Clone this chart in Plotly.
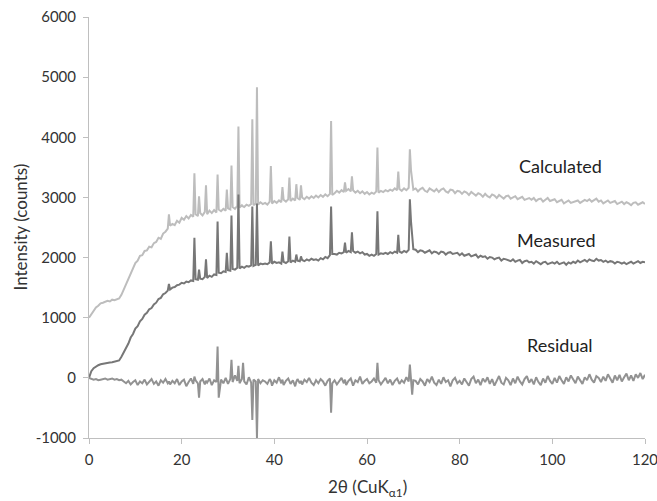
import plotly.graph_objects as go

# 2-theta positions (deg), shared by the three patterns
two_theta = [
    0, 0.5, 1, 1.5, 2, 2.5, 3, 3.5, 4, 4.5, 5, 5.5, 6, 6.5,
    7, 7.5, 8, 8.5, 9, 9.5, 10, 10.5, 11, 11.5, 12, 12.5, 13, 13.5, 14, 14.5, 15, 15.5, 16, 16.5, 17, 17.25,
    17.5, 18, 18.5, 19, 19.5, 20, 20.5, 21, 21.5, 22, 22.5, 22.75,
    23, 23.5, 23.75, 24, 24.5, 25, 25.25, 25.5, 26, 26.5, 27, 27.5, 27.75, 28, 28.5, 29, 29.5, 29.75, 30, 30.5,
    30.75, 31, 31.5, 32, 32.25, 32.5, 33, 33.25, 33.5, 34, 34.5, 35, 35.25, 35.5, 36, 36.25, 36.5, 37, 37.5,
    38, 38.5, 39, 39.25, 39.5, 40, 40.5, 41, 41.5, 41.75, 42, 42.5, 43, 43.25, 43.5, 44, 44.5, 44.75, 45, 45.5,
    45.75, 46, 46.5, 47, 47.5, 48, 48.5, 49, 49.5, 50, 50.5, 51, 51.5, 52, 52.25, 52.5,
    53, 53.5, 54, 54.5, 55, 55.25, 55.5, 56, 56.5, 56.75, 57, 57.5, 58, 58.5, 59, 59.5, 60, 60.5, 61, 61.5,
    62, 62.25, 62.5, 63, 63.5, 64, 64.5, 65, 65.5, 66, 66.5, 66.75, 67, 67.5, 68, 68.5, 69, 69.25, 69.5, 69.75, 70,
    70.5, 71, 71.5, 72, 72.5, 73, 73.5, 74, 74.5, 75,
    75.5, 76, 76.5, 77, 77.5, 78, 78.5, 79, 79.5, 80,
    80.5, 81, 81.5, 82, 82.5, 83, 83.5, 84, 84.5, 85,
    85.5, 86, 86.5, 87, 87.5, 88, 88.5, 89, 89.5, 90,
    90.5, 91, 91.5, 92, 92.5, 93, 93.5, 94, 94.5, 95,
    95.5, 96, 96.5, 97, 97.5, 98, 98.5, 99, 99.5, 100,
    100.5, 101, 101.5, 102, 102.5, 103, 103.5, 104, 104.5, 105,
    105.5, 106, 106.5, 107, 107.5, 108, 108.5, 109, 109.5, 110,
    110.5, 111, 111.5, 112, 112.5, 113, 113.5, 114, 114.5, 115,
    115.5, 116, 116.5, 117, 117.5, 118, 118.5, 119, 119.5, 120,
]

calculated = [
    1000, 1060, 1110, 1170, 1200, 1240, 1250, 1270, 1280, 1270, 1300, 1290, 1300, 1320,
    1380, 1470, 1570, 1650, 1760, 1830, 1910, 1950, 2030, 2040, 2110, 2120, 2180, 2170, 2240, 2260, 2330, 2310, 2400, 2430, 2480, 2720,
    2530, 2560, 2540, 2610, 2580, 2660, 2630, 2690, 2650, 2710, 2680, 3400,
    2720, 2690, 3020, 2740, 2700, 2760, 3200, 2720, 2780, 2740, 2790, 2750, 3380, 2800, 2770, 2810, 2780, 3130, 2820, 2800,
    3530, 2840, 2810, 2860, 4180, 2830, 2870, 2850, 2840, 2880, 2860, 2890, 4300, 2870, 2900, 4830, 2880, 2920, 2890,
    2910, 2880, 2930, 3520, 2900, 2940, 2910, 2950, 2920, 3170, 2960, 2930, 2970, 3330, 2940, 2980, 2950, 3220, 2990, 2960,
    3200, 3000, 2970, 3010, 2980, 3020, 2990, 3030, 3000, 3040, 3010, 3050, 3020, 3060, 4270, 3040,
    3070, 3110, 3080, 3120, 3090, 3250, 3110, 3140, 3100, 3350, 3120, 3080, 3110, 3070, 3100, 3060, 3090, 3050, 3080, 3060,
    3100, 3830, 3080, 3110, 3090, 3120, 3100, 3130, 3110, 3150, 3120, 3430, 3140, 3110, 3150, 3120, 3160, 3800, 3450, 3250, 3130,
    3150, 3100, 3140, 3160, 3110, 3090, 3150, 3120, 3100, 3140,
    3090, 3130, 3150, 3100, 3080, 3130, 3120, 3070, 3110, 3100,
    3060, 3100, 3080, 3040, 3090, 3060, 3030, 3070, 3050, 3010,
    3060, 3020, 3000, 3050, 3030, 2990, 3040, 3010, 2980, 3020,
    3030, 2980, 3000, 3020, 2970, 2990, 3010, 2960, 2980, 2990,
    2960, 2990, 2940, 2970, 2980, 2930, 2960, 2990, 2940, 2950,
    2970, 2920, 2940, 2960, 2900, 2930, 2950, 2910, 2920, 2940,
    2950, 2910, 2930, 2960, 2940, 2970, 2930, 2960, 2980, 2930,
    2950, 2900, 2930, 2950, 2910, 2920, 2940, 2890, 2910, 2930,
    2890, 2920, 2900, 2870, 2910, 2920, 2880, 2900, 2920, 2890,
]

measured = [
    0, 110, 160, 190, 210, 225, 235, 240, 250, 255, 260, 270, 275, 290,
    350, 420, 510, 570, 670, 730, 820, 860, 940, 980, 1050, 1080, 1140, 1160, 1220, 1250, 1310, 1330, 1390, 1410, 1450, 1560,
    1470, 1500, 1510, 1540, 1550, 1580, 1570, 1600, 1590, 1620, 1610, 2330,
    1640, 1630, 1800, 1650, 1640, 1680, 1970, 1660, 1700, 1680, 1720, 1710, 2600, 1750, 1740, 1770, 1760, 2080, 1790, 1780,
    2700, 1810, 1800, 1830, 3050, 1820, 1850, 1840, 1830, 1860, 1850, 1870, 2850, 1860, 1880, 2900, 1870, 1900, 1890,
    1900, 1890, 1920, 2270, 1900, 1930, 1910, 1920, 1900, 2100, 1930, 1910, 1940, 2350, 1920, 1950, 1930, 2050, 1950, 1940,
    2020, 1960, 1940, 1970, 1950, 1980, 1960, 1970, 1950, 1990, 1970, 2010, 1990, 2040, 2850, 2060,
    2060, 2050, 2080, 2070, 2090, 2250, 2080, 2110, 2090, 2420, 2110, 2080, 2100, 2070, 2090, 2050, 2060, 2030, 2050, 2030,
    2060, 2770, 2050, 2070, 2060, 2080, 2060, 2090, 2070, 2100, 2080, 2380, 2100, 2080, 2110, 2090, 2130, 2970, 2600, 2350, 2140,
    2130, 2090, 2120, 2110, 2080, 2100, 2120, 2070, 2100, 2090,
    2060, 2100, 2090, 2050, 2080, 2090, 2060, 2070, 2080, 2040,
    2070, 2030, 2050, 2060, 2020, 2040, 2050, 2000, 2030, 2010,
    2020, 1980, 2010, 2000, 1970, 1990, 2000, 1950, 1980, 1970,
    1960, 1940, 1970, 1930, 1950, 1960, 1910, 1940, 1950, 1920,
    1930, 1900, 1940, 1920, 1890, 1920, 1930, 1890, 1910, 1920,
    1900, 1930, 1890, 1910, 1920, 1880, 1920, 1900, 1930, 1910,
    1950, 1920, 1940, 1960, 1930, 1970, 1950, 1940, 1980, 1950,
    1960, 1930, 1950, 1920, 1940, 1930, 1900, 1930, 1920, 1900,
    1920, 1890, 1910, 1930, 1900, 1920, 1940, 1910, 1930, 1920,
]

residual = [
    0, -20, -30, -20, -40, -30, -20, -10, -30, -20, -10, -30, -20, -40,
    -30, -60, -90, -50, -110, -70, -40, -120, -60, -90, -30, -110, -70, -20, -100, -60, -130, -40, -80, -20, -90, -60,
    -110, -50, -90, -20, -120, -60, -30, -140, -70, -10, -100, 20,
    -40, -90, -330, -60, -20, -110, -50, -80, -10, -120, -40, -70, 520, -330, -30, -90, 0, -60, -100, -20,
    300, -70, 40, -50, 200, -90, -20, 250, -60, -110, 10, -80, -700, -30, -60, -1000, -20, -90, -40,
    -60, -100, -20, -50, -130, -40, -80, 10, -90, -30, -120, -50, -10, -70, -100, -40, -140, -60, -20, -90,
    -50, -110, -30, -70, 0, -80, -120, -40, -90, -20, -60, -130, -50, -10, -580, -90,
    -40, -110, -60, 0, -90, -30, -120, -50, -10, -80, -130, -40, -70, 20, -100, -50, -20, -90, -60, -10,
    -80, 250, -40, -110, -60, 0, -90, -30, -120, -50, -10, -70, -100, -40, -80, 10, -60, 220, -90, -280, -40,
    -50, -110, -20, -60, -130, -20, -70, 20, -80, -120,
    -30, -100, 10, -70, -40, -140, -40, 0, -90, -50,
    -110, -10, -60, -130, -20, 20, -90, -30, -120, -10,
    -70, 10, -100, -20, -130, -50, 30, -80, -110, 0,
    -40, -120, -10, -90, 20, -60, -110, -20, 30, -80,
    -20, -110, 10, -70, -120, -10, -80, 30, -50, -100,
    0, -80, 30, -40, -100, 10, -60, 40, -30, -90,
    20, -50, -100, 10, -40, 60, -30, -80, 30, 0,
    -70, 20, -50, 60, -20, -80, 40, -40, 50, -60,
    10, 70, -40, 40, -50, 60, 0, 80, -20, 50,
]

y_ticks = [-1000, 0, 1000, 2000, 3000, 4000, 5000, 6000]
y_tick_labels = ["-1000", "0", "1000", "2000", "3000", "4000", "5000", "6000"]

assert len(two_theta) == len(calculated) == len(measured) == len(residual), (
    len(two_theta), len(calculated), len(measured), len(residual))

FONT = "Lato"
AXIS_GREY = "#bfbfbf"

fig = go.Figure()
fig.add_trace(go.Scatter(x=two_theta, y=calculated, mode="lines", name="Calculated",
                         line=dict(color="#bdbdbd", width=2)))
fig.add_trace(go.Scatter(x=two_theta, y=measured, mode="lines", name="Measured",
                         line=dict(color="#777777", width=2)))
fig.add_trace(go.Scatter(x=two_theta, y=residual, mode="lines", name="Residual",
                         line=dict(color="#929292", width=2)))

for label, xx, yy in [("Calculated", 101.7, 3530), ("Measured", 100.8, 2300), ("Residual", 101.7, 550)]:
    fig.add_annotation(x=xx, y=yy, text=label, showarrow=False,
                       font=dict(family=FONT, size=18, color="#222222"))

# axis titles as paper annotations so they sit where the original puts them
fig.add_annotation(xref="paper", yref="paper", x=0, y=0.5, xshift=-69,
                   xanchor="center", yanchor="middle",
                   text="Intensity (counts)", textangle=-90, showarrow=False,
                   font=dict(family=FONT, size=17, color="#333333"))
fig.add_annotation(xref="paper", yref="paper", x=0.5, y=0, yshift=-50,
                   xanchor="center", yanchor="middle",
                   text="2θ (CuK<sub>α1</sub>)", showarrow=False,
                   font=dict(family=FONT, size=17, color="#333333"))

fig.update_layout(
    width=657, height=501,
    margin=dict(l=89, r=12, t=17, b=63),
    paper_bgcolor="white", plot_bgcolor="white",
    showlegend=False,
    font=dict(family=FONT, size=15, color="#333333"),
    xaxis=dict(range=[0, 120], dtick=20, tick0=0, showgrid=False, zeroline=False,
               showline=True, linecolor=AXIS_GREY, linewidth=1, automargin=False,
               ticks="outside", ticklen=5, tickcolor=AXIS_GREY, ticklabelstandoff=3,
               ticklabeloverflow="allow"),
    yaxis=dict(range=[-1000, 6000], tickvals=y_ticks, ticktext=y_tick_labels,
               showgrid=False, zeroline=False, automargin=False,
               showline=True, linecolor=AXIS_GREY, linewidth=1,
               ticks="outside", ticklen=5, tickcolor=AXIS_GREY, ticklabelstandoff=4),
)

# page body has a default 8px margin; drop it so the figure sits at the window origin
fig.write_html("out.html", config={"displayModeBar": False},
               post_script="document.body.style.margin='0';")
